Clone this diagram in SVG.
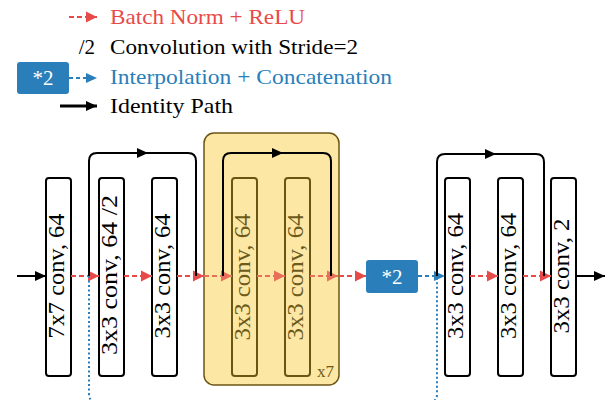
<svg xmlns="http://www.w3.org/2000/svg" width="611" height="400" viewBox="0 0 611 400">
  <style>
    text { font-family: "Liberation Serif", "Times New Roman", serif; }
    .legend { font-size: 21px; }
    .block { fill: #ffffff; stroke: #000000; stroke-width: 2; }
    .block-in { fill: #fde7a4; stroke: #6b5514; stroke-width: 2; }
    .btext { font-size: 23px; fill: #000000; text-anchor: middle; }
    .btext-in { font-size: 23px; fill: #6b5a1a; text-anchor: middle; }
    .bn { stroke: #e84a4a; stroke-width: 2; stroke-dasharray: 5 3; fill: none; }
    .bn-in { stroke: #e8705a; stroke-width: 2; stroke-dasharray: 5 3; fill: none; }
    .interp { stroke: #2a7fba; stroke-width: 2; stroke-dasharray: 4 3; fill: none; }
    .dots { stroke: #2a7fba; stroke-width: 2; stroke-dasharray: 2 2.5; fill: none; }
    .skip { stroke: #000000; stroke-width: 2; fill: none; }
    .upbox { fill: #2a7fba; }
    .uptext { font-size: 21px; fill: #ffffff; text-anchor: middle; }
  </style>
  <defs>
    <marker id="ahRed" markerUnits="userSpaceOnUse" markerWidth="12" markerHeight="12" refX="11" refY="6" orient="auto">
      <path d="M0,0.5 L11,6 L0,11.5 Z" fill="#e84a4a"/>
    </marker>
    <marker id="ahRedIn" markerUnits="userSpaceOnUse" markerWidth="12" markerHeight="12" refX="11" refY="6" orient="auto">
      <path d="M0,0.5 L11,6 L0,11.5 Z" fill="#e8705a"/>
    </marker>
    <marker id="ahBlue" markerUnits="userSpaceOnUse" markerWidth="12" markerHeight="12" refX="11" refY="6" orient="auto">
      <path d="M0,1 L11,6 L0,11 Z" fill="#2a7fba"/>
    </marker>
    <marker id="ahBlack" markerUnits="userSpaceOnUse" markerWidth="12" markerHeight="12" refX="11" refY="6" orient="auto">
      <path d="M0,1 L11,6 L0,11 Z" fill="#000000"/>
    </marker>
  </defs>

  <!-- legend -->
  <g id="legend">
    <line class="bn" x1="69" y1="17" x2="97" y2="17" marker-end="url(#ahRed)"/>
    <text class="legend" x="110" y="24" fill="#e84a4a" textLength="195" lengthAdjust="spacingAndGlyphs">Batch Norm + ReLU</text>
    <text class="legend" x="95" y="54" text-anchor="end">/2</text>
    <text class="legend" x="110" y="54" textLength="248" lengthAdjust="spacingAndGlyphs">Convolution with Stride=2</text>
    <rect class="upbox" x="17" y="62" width="52" height="32" rx="3"/>
    <text class="uptext" x="43" y="85">*2</text>
    <line class="interp" x1="69" y1="78" x2="97" y2="78" marker-end="url(#ahBlue)"/>
    <text class="legend" x="110" y="84" fill="#2a7fba" textLength="282" lengthAdjust="spacingAndGlyphs">Interpolation + Concatenation</text>
    <line x1="60" y1="106" x2="97" y2="106" stroke="#000" stroke-width="3" marker-end="url(#ahBlack)"/>
    <text class="legend" x="110" y="113" textLength="123" lengthAdjust="spacingAndGlyphs">Identity Path</text>
  </g>

  <!-- repeated residual stage -->
  <g id="stage-x7">
    <rect x="204" y="133" width="135" height="252" rx="10" fill="#fde7a4" stroke="#6b5514" stroke-width="1.5"/>
    <text x="317" y="377" font-size="17" fill="#6b5a1a">x7</text>
  </g>

  <!-- conv blocks -->
  <g id="conv1">
    <rect class="block" x="46" y="178" width="25" height="198" rx="3"/>
    <text class="btext" transform="translate(64,276) rotate(-90)" textLength="125" lengthAdjust="spacingAndGlyphs">7x7 conv, 64</text>
  </g>
  <g id="conv2">
    <rect class="block" x="99" y="178" width="25" height="198" rx="3"/>
    <text class="btext" transform="translate(117,275) rotate(-90)" textLength="160" lengthAdjust="spacingAndGlyphs">3x3 conv, 64 /2</text>
  </g>
  <g id="conv3">
    <rect class="block" x="152" y="178" width="25" height="198" rx="3"/>
    <text class="btext" transform="translate(170,276) rotate(-90)" textLength="125" lengthAdjust="spacingAndGlyphs">3x3 conv, 64</text>
  </g>
  <g id="conv4">
    <rect class="block-in" x="232" y="178" width="25" height="198" rx="3"/>
    <text class="btext-in" transform="translate(250,277) rotate(-90)" textLength="127" lengthAdjust="spacingAndGlyphs">3x3 conv, 64</text>
  </g>
  <g id="conv5">
    <rect class="block-in" x="285" y="178" width="25" height="198" rx="3"/>
    <text class="btext-in" transform="translate(303,277) rotate(-90)" textLength="127" lengthAdjust="spacingAndGlyphs">3x3 conv, 64</text>
  </g>
  <g id="upsample">
    <rect class="upbox" x="366" y="260" width="52" height="33" rx="3"/>
    <text class="uptext" x="392" y="284">*2</text>
  </g>
  <g id="conv6">
    <rect class="block" x="445" y="178" width="25" height="198" rx="3"/>
    <text class="btext" transform="translate(463,276) rotate(-90)" textLength="126" lengthAdjust="spacingAndGlyphs">3x3 conv, 64</text>
  </g>
  <g id="conv7">
    <rect class="block" x="498" y="178" width="25" height="198" rx="3"/>
    <text class="btext" transform="translate(516,276) rotate(-90)" textLength="126" lengthAdjust="spacingAndGlyphs">3x3 conv, 64</text>
  </g>
  <g id="conv8">
    <rect class="block" x="551" y="178" width="25" height="198" rx="3"/>
    <text class="btext" transform="translate(569,276) rotate(-90)" textLength="115" lengthAdjust="spacingAndGlyphs">3x3 conv, 2</text>
  </g>

  <!-- connectors -->
  <g id="connectors">
    <line x1="17" y1="276" x2="46" y2="276" stroke="#000" stroke-width="2" marker-end="url(#ahBlack)"/>
    <line class="bn" x1="71" y1="276" x2="99" y2="276" marker-end="url(#ahRed)"/>
    <line class="bn" x1="124" y1="276" x2="152" y2="276" marker-end="url(#ahRed)"/>
    <line class="bn" x1="177" y1="276" x2="204" y2="276" marker-end="url(#ahRed)"/>
    <line class="bn-in" x1="204" y1="276" x2="232" y2="276" marker-end="url(#ahRedIn)"/>
    <line class="bn-in" x1="257" y1="276" x2="285" y2="276" marker-end="url(#ahRedIn)"/>
    <line class="bn-in" x1="310" y1="276" x2="338" y2="276" marker-end="url(#ahRedIn)"/>
    <line class="bn" x1="339" y1="276" x2="366" y2="276" marker-end="url(#ahRed)"/>
    <line class="interp" x1="418" y1="276" x2="445" y2="276" marker-end="url(#ahBlue)"/>
    <line class="bn" x1="470" y1="276" x2="498" y2="276" marker-end="url(#ahRed)"/>
    <line class="bn" x1="523" y1="276" x2="551" y2="276" marker-end="url(#ahRed)"/>
    <line x1="576" y1="276" x2="605" y2="276" stroke="#000" stroke-width="2" marker-end="url(#ahBlack)"/>

    <!-- identity paths -->
    <path class="skip" d="M89,276 V161 Q89,153 97,153 H188 Q196,153 196,161 V276"/>
    <line class="skip" x1="130" y1="153" x2="148" y2="153" marker-end="url(#ahBlack)"/>
    <path class="skip" d="M223,276 V161 Q223,153 231,153 H323 Q331,153 331,161 V276"/>
    <line class="skip" x1="265" y1="153" x2="283" y2="153" marker-end="url(#ahBlack)"/>
    <path class="skip" d="M437,276 V162 Q437,154 445,154 H536 Q544,154 544,162 V276"/>
    <line class="skip" x1="478" y1="154" x2="496" y2="154" marker-end="url(#ahBlack)"/>

    <!-- long concatenation path, running just below the bottom edge -->
    <path class="dots" d="M89,276 V394 Q89,402 97,402 H429 Q437,402 437,394 V276"/>
  </g>
</svg>
